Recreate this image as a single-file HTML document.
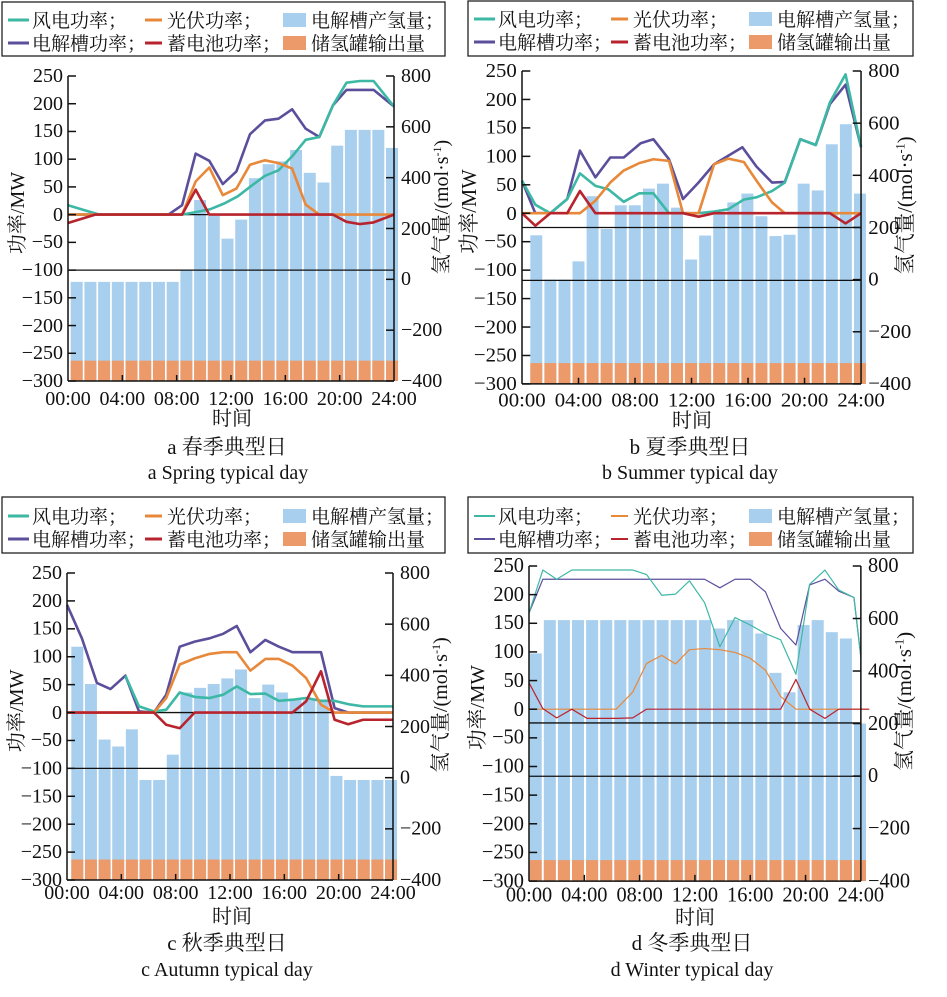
<!DOCTYPE html>
<html><head><meta charset="utf-8"><style>
html,body{margin:0;padding:0;background:#fff;}
svg{display:block;}
.t{font-family:"Liberation Serif","Noto Serif CJK SC",serif;font-size:20px;fill:#111;}
.c{font-family:"Liberation Serif","Noto Serif CJK SC",serif;font-size:19px;fill:#111;}
</style></head><body>
<svg id="s" width="947" height="997" viewBox="0 0 947 997" xmlns="http://www.w3.org/2000/svg">
<rect width="947" height="997" fill="#fff"/>

<g transform="translate(2,2)">
<rect x="0" y="0" width="443" height="54" fill="#fff" stroke="#222" stroke-width="1.3"/>
<line x1="6" y1="18" x2="27" y2="18" stroke="#3db8a5" stroke-width="3"/><text class="c" x="30" y="25">风电功率；</text>
<line x1="143" y1="18" x2="160" y2="18" stroke="#e8883a" stroke-width="3"/><text class="c" x="165" y="25">光伏功率；</text>
<rect x="281" y="11" width="23" height="14" fill="#a9cfee"/><text class="c" x="309" y="25">电解槽产氢量；</text>
<line x1="6" y1="41" x2="27" y2="41" stroke="#5b4f9c" stroke-width="3"/><text class="c" x="30" y="48">电解槽功率；</text>
<line x1="143" y1="41" x2="160" y2="41" stroke="#b8242e" stroke-width="3"/><text class="c" x="165" y="48">蓄电池功率；</text>
<rect x="281" y="34" width="23" height="14" fill="#ec9a6a"/><text class="c" x="309" y="48">储氢罐输出量</text>
</g>
<g transform="translate(468,1)">
<rect x="0" y="0" width="445" height="55" fill="#fff" stroke="#222" stroke-width="1.3"/>
<line x1="6" y1="18" x2="27" y2="18" stroke="#3db8a5" stroke-width="3"/><text class="c" x="30" y="25">风电功率；</text>
<line x1="143" y1="18" x2="160" y2="18" stroke="#e8883a" stroke-width="3"/><text class="c" x="165" y="25">光伏功率；</text>
<rect x="281" y="11" width="23" height="14" fill="#a9cfee"/><text class="c" x="309" y="25">电解槽产氢量；</text>
<line x1="6" y1="41" x2="27" y2="41" stroke="#5b4f9c" stroke-width="3"/><text class="c" x="30" y="48">电解槽功率；</text>
<line x1="143" y1="41" x2="160" y2="41" stroke="#b8242e" stroke-width="3"/><text class="c" x="165" y="48">蓄电池功率；</text>
<rect x="281" y="34" width="23" height="14" fill="#ec9a6a"/><text class="c" x="309" y="48">储氢罐输出量</text>
</g>
<g transform="translate(2,497)">
<rect x="0" y="0" width="443" height="56" fill="#fff" stroke="#222" stroke-width="1.3"/>
<line x1="6" y1="19" x2="27" y2="19" stroke="#3db8a5" stroke-width="3"/><text class="c" x="30" y="26">风电功率；</text>
<line x1="143" y1="19" x2="160" y2="19" stroke="#e8883a" stroke-width="3"/><text class="c" x="165" y="26">光伏功率；</text>
<rect x="281" y="12" width="23" height="14" fill="#a9cfee"/><text class="c" x="309" y="26">电解槽产氢量；</text>
<line x1="6" y1="42" x2="27" y2="42" stroke="#5b4f9c" stroke-width="3"/><text class="c" x="30" y="49">电解槽功率；</text>
<line x1="143" y1="42" x2="160" y2="42" stroke="#b8242e" stroke-width="3"/><text class="c" x="165" y="49">蓄电池功率；</text>
<rect x="281" y="35" width="23" height="14" fill="#ec9a6a"/><text class="c" x="309" y="49">储氢罐输出量</text>
</g>
<g transform="translate(468,497)">
<rect x="0" y="0" width="445" height="56" fill="#fff" stroke="#222" stroke-width="1.3"/>
<line x1="6" y1="19" x2="27" y2="19" stroke="#3db8a5" stroke-width="2"/><text class="c" x="30" y="26">风电功率；</text>
<line x1="143" y1="19" x2="160" y2="19" stroke="#e8883a" stroke-width="2"/><text class="c" x="165" y="26">光伏功率；</text>
<rect x="281" y="12" width="23" height="14" fill="#a9cfee"/><text class="c" x="309" y="26">电解槽产氢量；</text>
<line x1="6" y1="42" x2="27" y2="42" stroke="#5b4f9c" stroke-width="2"/><text class="c" x="30" y="49">电解槽功率；</text>
<line x1="143" y1="42" x2="160" y2="42" stroke="#b8242e" stroke-width="2"/><text class="c" x="165" y="49">蓄电池功率；</text>
<rect x="281" y="35" width="23" height="14" fill="#ec9a6a"/><text class="c" x="309" y="49">储氢罐输出量</text>
</g>

<g id="pa" transform="translate(68,76) scale(1,1)"></g>
<g id="pb" transform="translate(522,71) scale(1.04,1.026)"></g>
<g id="pc" transform="translate(67,573) scale(1,1.0066)"></g>
<g id="pd" transform="translate(529,566) scale(1.018,1.033)"></g>

<g transform="translate(68,76)">
<g class="t" text-anchor="end"><text x="-5" y="6">250</text><text x="-5" y="34">200</text><text x="-5" y="61">150</text><text x="-5" y="89">100</text><text x="-5" y="117">50</text><text x="-5" y="145">0</text><text x="-5" y="172">−50</text><text x="-5" y="200">−100</text><text x="-5" y="228">−150</text><text x="-5" y="256">−200</text><text x="-5" y="283">−250</text><text x="-5" y="311">−300</text></g>
<g class="t"><text x="333" y="6">800</text><text x="333" y="57">600</text><text x="333" y="108">400</text><text x="333" y="159">200</text><text x="333" y="209">0</text><text x="333" y="260">−200</text><text x="333" y="311">−400</text></g>
<g class="t" text-anchor="middle"><text x="0" y="329">00:00</text><text x="54.3" y="329">04:00</text><text x="108.7" y="329">08:00</text><text x="163" y="329">12:00</text><text x="217.3" y="329">16:00</text><text x="271.7" y="329">20:00</text><text x="326" y="329">24:00</text></g>
<text class="t" transform="translate(-44,137) rotate(-90)" text-anchor="middle">功率/MW</text>
<text class="t" transform="translate(380,131) rotate(-90)" text-anchor="middle">氢气量/(mol·s<tspan font-size="12" dy="-7">-1</tspan><tspan dy="7">)</tspan></text>
</g>
<g transform="translate(522,71) scale(1.04,1.026)">
<g class="t" text-anchor="end"><text x="-5" y="6">250</text><text x="-5" y="34">200</text><text x="-5" y="61">150</text><text x="-5" y="89">100</text><text x="-5" y="117">50</text><text x="-5" y="145">0</text><text x="-5" y="172">−50</text><text x="-5" y="200">−100</text><text x="-5" y="228">−150</text><text x="-5" y="256">−200</text><text x="-5" y="283">−250</text><text x="-5" y="311">−300</text></g>
<g class="t"><text x="333" y="6">800</text><text x="333" y="57">600</text><text x="333" y="108">400</text><text x="333" y="159">200</text><text x="333" y="209">0</text><text x="333" y="260">−200</text><text x="333" y="311">−400</text></g>
<g class="t" text-anchor="middle"><text x="0" y="327">00:00</text><text x="54.3" y="327">04:00</text><text x="108.7" y="327">08:00</text><text x="163" y="327">12:00</text><text x="217.3" y="327">16:00</text><text x="271.7" y="327">20:00</text><text x="326" y="327">24:00</text></g>
<text class="t" transform="translate(-44,137) rotate(-90)" text-anchor="middle">功率/MW</text>
<text class="t" transform="translate(375,131) rotate(-90)" text-anchor="middle">氢气量/(mol·s<tspan font-size="12" dy="-7">-1</tspan><tspan dy="7">)</tspan></text>
</g>
<g transform="translate(67,573) scale(1,1.0066)">
<g class="t" text-anchor="end"><text x="-5" y="6">250</text><text x="-5" y="34">200</text><text x="-5" y="61">150</text><text x="-5" y="89">100</text><text x="-5" y="117">50</text><text x="-5" y="145">0</text><text x="-5" y="172">−50</text><text x="-5" y="200">−100</text><text x="-5" y="228">−150</text><text x="-5" y="256">−200</text><text x="-5" y="283">−250</text><text x="-5" y="311">−300</text></g>
<g class="t"><text x="333" y="6">800</text><text x="333" y="57">600</text><text x="333" y="108">400</text><text x="333" y="159">200</text><text x="333" y="209">0</text><text x="333" y="260">−200</text><text x="333" y="311">−400</text></g>
<g class="t" text-anchor="middle"><text x="0" y="324">00:00</text><text x="54.3" y="324">04:00</text><text x="108.7" y="324">08:00</text><text x="163" y="324">12:00</text><text x="217.3" y="324">16:00</text><text x="271.7" y="324">20:00</text><text x="326" y="324">24:00</text></g>
<text class="t" transform="translate(-44,137) rotate(-90)" text-anchor="middle">功率/MW</text>
<text class="t" transform="translate(380,131) rotate(-90)" text-anchor="middle">氢气量/(mol·s<tspan font-size="12" dy="-7">-1</tspan><tspan dy="7">)</tspan></text>
</g>
<g transform="translate(529,566) scale(1.018,1.033)">
<g class="t" text-anchor="end"><text x="-5" y="6">250</text><text x="-5" y="34">200</text><text x="-5" y="61">150</text><text x="-5" y="89">100</text><text x="-5" y="117">50</text><text x="-5" y="145">0</text><text x="-5" y="172">−50</text><text x="-5" y="200">−100</text><text x="-5" y="228">−150</text><text x="-5" y="256">−200</text><text x="-5" y="283">−250</text><text x="-5" y="311">−300</text></g>
<g class="t"><text x="333" y="6">800</text><text x="333" y="57">600</text><text x="333" y="108">400</text><text x="333" y="159">200</text><text x="333" y="209">0</text><text x="333" y="260">−200</text><text x="333" y="311">−400</text></g>
<g class="t" text-anchor="middle"><text x="0" y="325">00:00</text><text x="54.3" y="325">04:00</text><text x="108.7" y="325">08:00</text><text x="163" y="325">12:00</text><text x="217.3" y="325">16:00</text><text x="271.7" y="325">20:00</text><text x="326" y="325">24:00</text></g>
<text class="t" transform="translate(-44,137) rotate(-90)" text-anchor="middle">功率/MW</text>
<text class="t" transform="translate(375,131) rotate(-90)" text-anchor="middle">氢气量/(mol·s<tspan font-size="12" dy="-7">-1</tspan><tspan dy="7">)</tspan></text>
</g>

<g class="t" text-anchor="middle">
<text x="232" y="425">时间</text>
<text x="227" y="454" font-size="21">a  春季典型日</text>
<text x="228" y="479" font-size="20">a  Spring typical day</text>
<text x="692" y="427">时间</text>
<text x="690" y="454" font-size="21">b  夏季典型日</text>
<text x="690" y="479" font-size="20">b  Summer typical day</text>
<text x="232" y="923">时间</text>
<text x="227" y="950" font-size="21">c  秋季典型日</text>
<text x="227" y="976" font-size="20">c  Autumn typical day</text>
<text x="695" y="924">时间</text>
<text x="692" y="950" font-size="21">d  冬季典型日</text>
<text x="692" y="976" font-size="20">d  Winter typical day</text>
</g>
</svg>
<script>
(function(){
var NS="http://www.w3.org/2000/svg";
function ym(v){return (250-v)*305/550;}
function yh(h){return (800-h)*305/1200;}
function xh(h){return h*326/24;}
function el(g,t,a){var e=document.createElementNS(NS,t);for(var k in a)e.setAttribute(k,a[k]);g.appendChild(e);return e;}
var P={
pa:{start:2.7,slot:13.71,w:12,sw:2.6,
 hl:[0,-100],
 bars:[-10,-10,-10,-10,-10,-10,-10,-10,37,312,249,160,235,398,453,464,509,419,381,526,588,588,588,517],
 elec:[[0,0],[7.4,0],[8.4,17],[9.4,110],[10.4,97],[11.4,55],[12.4,78],[13.4,145],[14.5,170],[15.5,173],[16.5,190],[17.5,155],[18.5,140],[19.5,197],[20.5,225],[22.5,225],[24,195]],
 wind:[[0,17],[2.3,0],[8.4,0],[9.5,5],[10.5,10],[11.5,20],[12.5,33],[13.5,52],[14.5,70],[15.5,80],[16.5,105],[17.5,135],[18.5,140],[19.5,197],[20.5,238],[21.5,241],[22.5,241],[24,195]],
 pv:[[0,0],[8.4,0],[9.4,60],[10.4,85],[11.4,35],[12.4,47],[13.4,90],[14.5,98],[15.5,93],[16.5,83],[17.5,18],[18.5,0],[24,0]],
 bat:[[0,-15],[2,0],[8.4,0],[9.4,45],[10.4,0],[19.5,0],[20.5,-13],[21.5,-17],[22.5,-14],[24,0]]},
pb:{start:8,slot:13.53,w:11.5,sw:2.6,
 hl:[-25,-118],
 bars:[170,0,0,70,320,194,285,285,349,368,276,77,169,253,296,330,243,167,172,368,342,519,596,330],
 elec:[[0,57],[0.94,0],[2,0],[3.2,25],[4.1,110],[5.2,63],[6.25,98],[7.2,98],[8.4,123],[9.3,130],[10.4,95],[11.4,25],[12.5,54],[13.6,86],[14.6,101],[15.6,116],[16.6,82],[17.7,54],[18.6,55],[19.7,130],[20.8,120],[21.8,192],[22.9,226],[24,116]],
 wind:[[0,57],[0.94,15],[2,0],[3.2,25],[4.1,70],[5.2,48],[6.1,42],[7.2,20],[8.3,35],[9.3,35],[10.4,0],[12.5,0],[13.6,3],[14.6,7],[15.7,24],[16.6,28],[17.7,39],[18.6,54],[19.7,130],[20.8,120],[21.8,195],[22.9,244],[24,116]],
 pv:[[0,0],[4.1,0],[5.2,22],[6.25,54],[7.2,75],[8.3,88],[9.3,95],[10.4,92],[11.4,0],[12.5,0],[13.6,86],[14.6,96],[15.7,90],[16.6,57],[17.7,19],[18.6,0],[24,0]],
 bat:[[0,0],[0.94,-22],[2,0],[3.2,0],[4.1,39],[5.2,0],[11.4,0],[12.5,-6],[13.6,0],[21.8,0],[22.9,-18],[24,0]]},
pc:{start:4.3,slot:13.64,w:12,sw:2.6,
 hl:[0,-100],
 bars:[512,366,149,122,189,-9,-9,90,333,351,366,388,423,311,364,333,304,304,304,7,-9,-9,-9,-9],
 elec:[[0,193],[1.1,133],[2.2,53],[3.2,42],[4.3,66],[5.3,2],[6.4,0],[7.3,32],[8.3,118],[9.4,127],[10.5,133],[11.5,141],[12.5,155],[13.5,108],[14.6,130],[15.6,118],[16.6,108],[18.7,108],[19.7,8],[20.7,0],[24,0]],
 wind:[[4.3,66],[5.3,11],[6.4,2],[7.3,5],[8.3,36],[9.4,28],[10.5,26],[11.5,32],[12.5,47],[13.5,33],[14.6,34],[15.6,21],[16.6,23],[17.6,26],[18.7,21],[19.7,21],[20.7,15],[21.8,11],[24,11]],
 pv:[[0,0],[6.4,0],[7.3,26],[8.3,86],[9.4,97],[10.5,105],[11.5,108],[12.5,108],[13.5,75],[14.6,96],[15.6,96],[16.6,84],[17.6,62],[18.7,14],[19.7,0],[24,0]],
 bat:[[0,0],[6.4,0],[7.3,-22],[8.3,-28],[9.4,0],[16.6,0],[17.6,20],[18.7,74],[19.7,-13],[20.7,-21],[21.8,-13],[24,-13]]},
pd:{start:0.7,slot:13.85,w:11.8,sw:1.2,
 hl:[-24,-117],
 bars:[467,594,594,594,594,594,594,594,594,594,594,594,594,562,594,594,543,393,319,575,594,548,524,200],
 elec:[[0,168],[1,227],[12.7,227],[13.8,212],[14.9,227],[16,227],[17.1,205],[18.2,141],[19.3,112],[20.3,217],[21.4,227],[22.4,206],[23.5,195],[24,91]],
 wind:[[0,168],[1,243],[2,227],[3.1,243],[7.5,243],[8.5,235],[9.6,199],[10.6,201],[11.6,224],[12.7,186],[13.8,109],[14.9,160],[16,147],[17.1,132],[18.2,121],[19.3,61],[20.3,218],[21.4,243],[22.4,208],[23.5,195],[24,91]],
 pv:[[0,0],[6.3,0],[7.5,30],[8.5,80],[9.6,94],[10.6,79],[11.6,104],[12.7,106],[13.8,104],[14.9,99],[16,89],[17.1,68],[18.2,22],[19.3,0],[24.6,0]],
 bat:[[0,46],[1,1],[2,-15],[3.1,0],[4.2,-16],[6.3,-16],[7.5,-15],[8.5,0],[18.2,0],[19.3,52],[20.3,0],[21.4,-16],[22.4,0],[24.6,0]]}
};
for(var id in P){
 var d=P[id],g=document.getElementById(id);
 for(var i=0;i<24;i++){
  var x=d.start+i*d.slot,top=yh(d.bars[i]);
  el(g,"rect",{x:x,y:top,width:d.w,height:305-top,fill:"#a9cfee"});
  el(g,"rect",{x:x,y:yh(-320),width:d.w,height:305-yh(-320),fill:"#ec9a6a"});
 }
 d.hl.forEach(function(v){el(g,"line",{x1:0,x2:326,y1:ym(v),y2:ym(v),stroke:"#111","stroke-width":1.3,"vector-effect":"non-scaling-stroke"});});
 [["elec","#5b4f9c"],["wind","#3db8a5"],["pv","#e8883a"],["bat","#b8242e"]].forEach(function(s){
  var pts=d[s[0]].map(function(p){return xh(p[0]).toFixed(1)+","+ym(p[1]).toFixed(1);}).join(" ");
  el(g,"polyline",{points:pts,fill:"none",stroke:s[1],"stroke-width":d.sw,"stroke-linejoin":"round","vector-effect":"non-scaling-stroke"});
 });
 var ax={stroke:"#111","stroke-width":1.5,"vector-effect":"non-scaling-stroke"};
 function L(a,b,c,e){var o={x1:a,y1:b,x2:c,y2:e};for(var k in ax)o[k]=ax[k];el(g,"line",o);}
 L(0,0,0,305);L(326,0,326,305);L(0,305,326,305);
 for(var v=250;v>=-300;v-=50)L(0,ym(v),8,ym(v));
 for(var h=800;h>=-400;h-=200)L(318,yh(h),326,yh(h));
 for(var t=4;t<=20;t+=4)L(xh(t),305,xh(t),299);
}
})();
</script>
</body></html>
